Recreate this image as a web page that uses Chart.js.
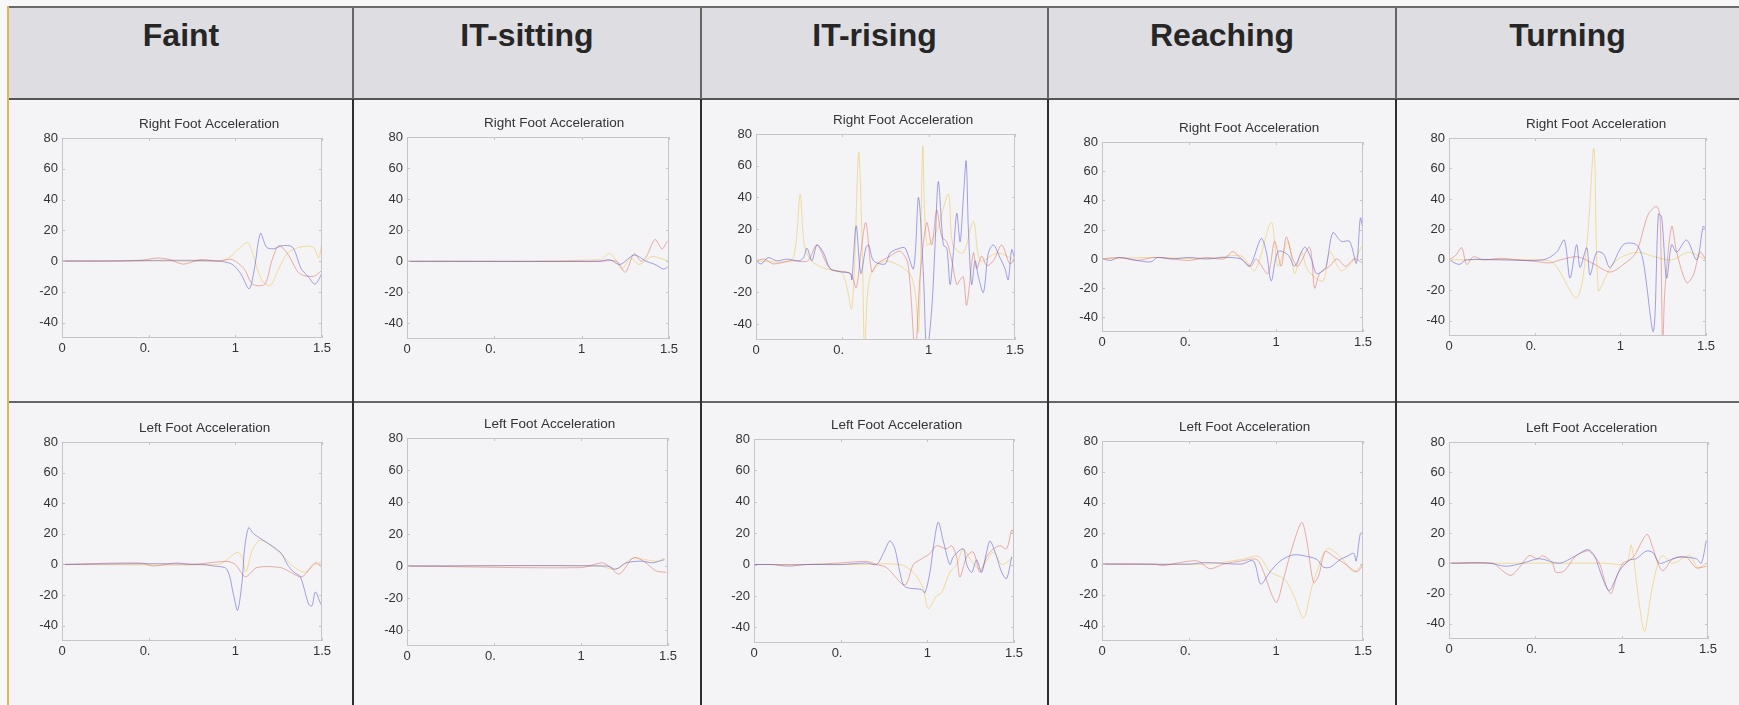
<!DOCTYPE html>
<html lang="en">
<head>
<meta charset="UTF-8">
<title>Foot acceleration per activity</title>
<script src="https://cdn.jsdelivr.net/npm/chart.js"></script>
<style>
  html, body { margin: 0; padding: 0; }
  body { width: 1739px; height: 705px; position: relative; overflow: hidden; background: #f7f7f7; font-family: "Liberation Sans", Arial, sans-serif; }
  #sheet { position: absolute; left: 9px; top: 7px; right: 0; bottom: 0; background: #f4f4f6; }
  #band { position: absolute; left: 9px; top: 8px; right: 0; height: 91px; background: #dedde2; }
  .head { position: absolute; top: 19px; line-height: 32px; font-size: 32px; font-weight: bold; color: #262626; text-align: center; }
  .line { position: absolute; }
  canvas { position: absolute; }
</style>
</head>
<body>
<div id="sheet"></div>
<div id="band"></div>

<script>
  // categories and labels
  const activities = ['Faint', 'IT-sitting', 'IT-rising', 'Reaching', 'Turning'];
  const rowTitles = ['Right Foot Acceleration', 'Left Foot Acceleration'];
  const xTicks = [0, 0.5, 1, 1.5];
  const xTickLabels = ['0', '0.  ', '1', '1.5'];
  const yTicks = [-40, -20, 0, 20, 40, 60, 80];

  // series: [time, acceleration]
  const faintRightBlue = [[0,0],[0.3,0],[0.6,0.5],[0.9,0],[0.98,-2],[1.03,-8],[1.08,-18],[1.11,-5],[1.145,18],[1.18,9],[1.22,8],[1.27,10],[1.33,9],[1.38,-5],[1.42,-10],[1.46,-15],[1.5,-8]];
  const faintRightRed = [[0,0],[0.45,0.5],[0.55,2],[0.62,1],[0.7,-2],[0.8,1],[0.9,0],[0.98,1],[1.05,-5],[1.1,-15],[1.17,-15],[1.21,0],[1.25,10],[1.3,5],[1.37,-8],[1.45,-10],[1.5,-6]];
  const faintRightYellow = [[0,0],[0.5,0],[0.9,0],[0.96,2],[1.02,8],[1.07,12],[1.1,5],[1.15,-12],[1.2,-16],[1.25,-5],[1.3,5],[1.37,9],[1.45,9],[1.48,2],[1.5,12]];

  const faintLeftBlue = [[0,0],[0.5,0.5],[0.8,0],[0.875,-1],[0.95,-3],[0.99,-20],[1.013,-30],[1.04,-10],[1.053,10],[1.077,24],[1.106,20],[1.26,8],[1.3,0],[1.337,-5],[1.375,-8],[1.423,-26],[1.442,-27],[1.462,-18],[1.49,-25],[1.5,-27]];
  const faintLeftRed = [[0,0],[0.45,1],[0.53,-1],[0.66,1],[0.75,0],[0.95,2],[1.0,0],[1.058,-8],[1.125,-2],[1.26,-2],[1.317,-5],[1.385,-8],[1.46,1],[1.5,-2]];
  const faintLeftYellow = [[0,0],[0.9,0],[0.95,3],[1.01,8],[1.038,5],[1.06,-5],[1.1,10],[1.15,16],[1.28,5],[1.32,0],[1.4,-5],[1.46,0],[1.5,2]];

  const sitRightBlue = [[0,0],[1.1,0],[1.16,1],[1.22,-2],[1.3,4],[1.37,0],[1.42,-2],[1.47,-5],[1.5,-3]];
  const sitRightRed = [[0,0],[1.1,0],[1.2,0],[1.25,-7],[1.3,5],[1.34,0],[1.37,3],[1.42,14],[1.46,8],[1.49,13]];
  const sitRightYellow = [[0,0],[1.1,1],[1.16,5],[1.2,0],[1.23,-5],[1.28,2],[1.33,-2],[1.4,3],[1.45,2],[1.5,0]];

  const sitLeftBlue = [[0,0],[1.15,0],[1.2,-2],[1.26,2],[1.35,3],[1.41,2],[1.48,4]];
  const sitLeftRed = [[0,0],[1.0,-1],[1.12,2],[1.16,0],[1.22,-5],[1.3,5],[1.36,3],[1.43,-3],[1.49,-4]];
  const sitLeftYellow = [[0,0],[1.1,0],[1.2,-2],[1.3,5],[1.37,4],[1.44,3],[1.48,5]];

  const riseRightBlue = [[0,0],[0.03,-2],[0.07,2],[0.12,0],[0.18,1],[0.25,0],[0.276,2],[0.295,8],[0.324,0],[0.353,10],[0.391,5],[0.43,-5],[0.488,-7],[0.546,-8],[0.555,-12],[0.58,22],[0.607,-8],[0.636,8],[0.652,10],[0.681,0],[0.748,-2],[0.777,5],[0.835,8],[0.864,8],[0.912,-5],[0.941,40],[0.97,-10],[0.989,-58],[1.018,-30],[1.037,10],[1.056,50],[1.085,10],[1.105,8],[1.124,-15],[1.143,5],[1.163,30],[1.182,12],[1.201,40],[1.217,63],[1.23,20],[1.249,-15],[1.269,0],[1.288,-10],[1.317,-20],[1.346,5],[1.375,10],[1.413,2],[1.442,-5],[1.461,-12],[1.481,7],[1.5,0]];
  const riseRightRed = [[0,0],[0.05,1],[0.1,-2],[0.2,0],[0.3,0],[0.353,10],[0.43,-5],[0.546,-8],[0.58,-17],[0.607,5],[0.636,24],[0.671,-7],[0.7,-2],[0.777,3],[0.835,6],[0.88,-2],[0.922,-58],[0.95,-10],[0.989,24],[1.018,10],[1.047,32],[1.076,15],[1.105,12],[1.134,0],[1.163,-15],[1.182,-12],[1.201,-10],[1.22,-28],[1.259,5],[1.278,-5],[1.307,3],[1.336,-3],[1.375,0],[1.423,10],[1.47,-2],[1.5,2]];
  const riseRightYellow = [[0,0],[0.2,0],[0.23,10],[0.256,42],[0.28,10],[0.32,0],[0.4,-5],[0.5,-8],[0.555,-30],[0.594,68],[0.615,10],[0.63,-58],[0.66,-10],[0.75,0],[0.9,-10],[0.941,-45],[0.966,72],[0.99,10],[1.05,20],[1.114,42],[1.14,10],[1.2,5],[1.259,25],[1.3,0],[1.4,5],[1.5,0]];

  const riseLeftBlue = [[0,0],[0.1,0],[0.2,-1],[0.3,0],[0.5,0],[0.649,1],[0.707,0],[0.75,8],[0.784,15],[0.813,10],[0.842,-5],[0.87,-14],[0.967,-16],[0.986,-18],[1.015,-5],[1.04,15],[1.063,27],[1.092,15],[1.13,0],[1.15,5],[1.207,10],[1.227,0],[1.256,-5],[1.284,3],[1.313,-5],[1.342,8],[1.362,15],[1.4,5],[1.429,-5],[1.457,-9],[1.487,5]];
  const riseLeftRed = [[0,0],[0.1,0],[0.3,0],[0.5,1],[0.649,2],[0.707,0],[0.765,-2],[0.87,-13],[0.919,0],[0.957,3],[1.015,7],[1.053,12],[1.111,10],[1.14,12],[1.169,5],[1.188,-8],[1.227,5],[1.265,8],[1.304,-5],[1.342,5],[1.381,10],[1.419,12],[1.457,10],[1.487,22],[1.5,20]];
  const riseLeftYellow = [[0,0],[0.6,0],[0.842,0],[0.919,-5],[0.976,-15],[1.005,-28],[1.053,-20],[1.082,-18],[1.13,-5],[1.169,0],[1.207,10],[1.25,3],[1.304,-3],[1.381,8],[1.43,0],[1.5,5]];

  const reachRightBlue = [[0,0],[0.05,-1],[0.1,1],[0.2,-1],[0.28,-2],[0.32,1],[0.4,0],[0.5,1],[0.6,0],[0.7,1],[0.8,0],[0.848,-5],[0.915,14],[0.944,5],[0.973,-15],[1.011,5],[1.068,3],[1.107,-5],[1.164,8],[1.203,0],[1.232,-10],[1.27,-8],[1.289,-5],[1.327,18],[1.375,12],[1.423,12],[1.462,-3],[1.485,28],[1.5,20]];
  const reachRightRed = [[0,0],[0.1,1],[0.2,-1],[0.3,1],[0.4,0],[0.5,-1],[0.6,1],[0.7,0],[0.752,5],[0.8,0],[0.857,-5],[0.886,0],[0.953,-10],[0.992,12],[1.03,-5],[1.059,15],[1.097,0],[1.126,-5],[1.193,8],[1.222,-20],[1.251,-10],[1.308,-5],[1.35,0],[1.4,-5],[1.45,0],[1.5,-3]];
  const reachRightYellow = [[0,0],[0.3,1],[0.6,0],[0.8,2],[0.877,-8],[0.973,25],[1.011,-5],[1.068,12],[1.107,-10],[1.145,5],[1.184,-8],[1.27,-15],[1.308,5],[1.375,-8],[1.452,0],[1.5,10]];

  const reachLeftBlue = [[0,0],[0.5,0],[0.6,1],[0.8,0],[0.87,2],[0.912,-13],[0.966,-5],[1.024,2],[1.1,6],[1.177,5],[1.235,3],[1.273,-2],[1.312,-2],[1.369,3],[1.408,5],[1.446,7],[1.461,2],[1.485,20],[1.5,20]];
  const reachLeftRed = [[0,0],[0.3,0],[0.35,-1],[0.45,1],[0.55,2],[0.62,-3],[0.7,0],[0.8,2],[0.889,3],[0.928,-5],[0.976,-20],[1.004,-25],[1.043,-10],[1.091,10],[1.148,27],[1.177,15],[1.216,-12],[1.244,-8],[1.283,8],[1.331,5],[1.398,0],[1.465,-5],[1.5,0]];
  const reachLeftYellow = [[0,0],[0.6,0],[0.8,3],[0.899,5],[0.966,-5],[1.05,-10],[1.1,-20],[1.158,-35],[1.206,-15],[1.235,-5],[1.293,10],[1.369,5],[1.446,-5],[1.5,0]];

  const turnRightBlue = [[0,0],[0.06,-3],[0.1,0],[0.3,0],[0.55,0],[0.628,5],[0.673,13],[0.706,-12],[0.745,10],[0.765,-5],[0.804,8],[0.823,-10],[0.862,5],[0.901,4],[0.94,-5],[1.018,10],[1.093,10],[1.132,0],[1.193,-47],[1.222,30],[1.241,28],[1.27,-12],[1.3,10],[1.329,5],[1.387,13],[1.446,0],[1.484,22],[1.5,20]];
  const turnRightRed = [[0,0],[0.04,3],[0.074,8],[0.103,-3],[0.142,2],[0.2,0],[0.3,1],[0.4,0],[0.5,-1],[0.59,-2],[0.65,0],[0.75,2],[0.85,-3],[0.94,-8],[1.018,-3],[1.093,5],[1.163,30],[1.212,35],[1.232,28],[1.247,-58],[1.26,-20],[1.3,22],[1.329,5],[1.387,-15],[1.426,-10],[1.465,5],[1.5,0]];
  const turnRightYellow = [[0,0],[0.5,0],[0.609,-2],[0.745,-25],[0.804,10],[0.846,73],[0.872,-20],[0.92,-10],[0.98,0],[1.1,5],[1.2,2],[1.3,0],[1.4,5],[1.5,0]];

  const turnLeftBlue = [[0,0],[0.232,0],[0.329,-2],[0.426,0],[0.523,3],[0.639,0],[0.735,5],[0.803,9],[0.842,5],[0.89,-10],[0.929,-18],[0.987,-5],[1.045,2],[1.084,3],[1.142,8],[1.181,7],[1.219,0],[1.277,2],[1.335,4],[1.432,3],[1.461,0],[1.49,15]];
  const turnLeftRed = [[0,0],[0.252,0],[0.31,-5],[0.358,-8],[0.406,-3],[0.464,5],[0.513,3],[0.542,5],[0.6,0],[0.619,-6],[0.668,-5],[0.735,5],[0.794,8],[0.813,8],[0.871,0],[0.91,-15],[0.939,-20],[0.968,-10],[1.007,0],[1.045,2],[1.074,5],[1.146,19],[1.181,10],[1.21,0],[1.239,-5],[1.297,3],[1.374,4],[1.432,-3],[1.49,-2]];
  const turnLeftYellow = [[0,0],[0.6,0],[0.9,0],[1.026,0],[1.055,12],[1.094,-20],[1.132,-45],[1.171,-20],[1.21,0],[1.239,5],[1.297,0],[1.393,5],[1.442,-3],[1.49,0]];

  const panelSeries = [
    [[faintRightBlue, faintRightRed, faintRightYellow], [sitRightBlue, sitRightRed, sitRightYellow],
     [riseRightBlue, riseRightRed, riseRightYellow], [reachRightBlue, reachRightRed, reachRightYellow],
     [turnRightBlue, turnRightRed, turnRightYellow]],
    [[faintLeftBlue, faintLeftRed, faintLeftYellow], [sitLeftBlue, sitLeftRed, sitLeftYellow],
     [riseLeftBlue, riseLeftRed, riseLeftYellow], [reachLeftBlue, reachLeftRed, reachLeftYellow],
     [turnLeftBlue, turnLeftRed, turnLeftYellow]]
  ];

  // layout of the scanned table (page px)
  const colEdges = [9, 353, 701, 1048, 1396, 1739];
  const rowSpans = [[101, 401], [404, 705]];
  // plot box per panel: left, top(80), right, bottom(-50)
  const plotBoxes = [
    [[62, 138, 322, 338], [407, 137, 669, 339], [756, 134, 1015, 340], [1102, 142, 1363, 332], [1449, 138, 1706, 336]],
    [[62, 442, 322, 641], [407, 438, 668, 646], [754, 439, 1014, 643], [1102, 441, 1363, 641], [1449, 442, 1708, 639]]
  ];
  // faint scan colours
  const lineColors = ['rgba(90,90,210,0.55)', 'rgba(220,100,90,0.5)', 'rgba(236,200,95,0.6)'];

  function addLine(x, y, w, h, color) {
    const d = document.createElement('div');
    d.className = 'line';
    d.style.cssText = `left:${x}px;top:${y}px;width:${w}px;height:${h}px;background:${color}`;
    document.body.appendChild(d);
  }

  // table rules
  addLine(8, 6, 1731, 2, '#6a6a6a');
  addLine(9, 98, 1730, 2, '#555');
  addLine(9, 401, 1730, 2, '#666');
  addLine(7, 6, 2, 699, '#e2b45a');
  for (let i = 1; i < colEdges.length - 1; i++) {
    addLine(colEdges[i] - 1, 8, 2, 91, '#666');
    addLine(colEdges[i] - 1, 99, 2, 606, '#2e2e2e');
  }

  activities.forEach((name, i) => {
    const h = document.createElement('div');
    h.className = 'head';
    h.style.left = colEdges[i] + 'px';
    h.style.width = (colEdges[i + 1] - colEdges[i]) + 'px';
    h.textContent = name;
    document.body.appendChild(h);
  });

  Chart.defaults.font.family = '"Liberation Sans", Arial, sans-serif';
  Chart.defaults.color = '#333';

  // matlab style box, inward ticks and the axes title
  Chart.register({
    id: 'matlabFrame',
    afterDraw(chart, args, opts) {
      const { ctx, chartArea: a, scales } = chart;
      ctx.save();
      ctx.strokeStyle = '#c4c4c9';
      ctx.lineWidth = 1;
      ctx.strokeRect(Math.round(a.left) + 0.5, Math.round(a.top) + 0.5, Math.round(a.width) - 1, Math.round(a.height) - 1);
      ctx.beginPath();
      xTicks.forEach(v => {
        const px = Math.round(scales.x.getPixelForValue(v)) + 0.5;
        ctx.moveTo(px, a.bottom); ctx.lineTo(px, a.bottom - 3);
        ctx.moveTo(px, a.top); ctx.lineTo(px, a.top + 3);
      });
      yTicks.forEach(v => {
        const py = Math.round(scales.y.getPixelForValue(v)) + 0.5;
        ctx.moveTo(a.left, py); ctx.lineTo(a.left + 3, py);
        ctx.moveTo(a.right, py); ctx.lineTo(a.right - 3, py);
      });
      ctx.stroke();
      ctx.font = '13.5px "Liberation Sans", Arial, sans-serif';
      ctx.fillStyle = '#333';
      ctx.textBaseline = 'middle';
      ctx.textAlign = 'left';
      ctx.fillText(opts.text, a.left + 77, a.top - 14);
      ctx.restore();
    }
  });

  rowSpans.forEach(([rTop, rBottom], r) => {
    activities.forEach((name, c) => {
      const cLeft = colEdges[c] + 1;
      const cRight = colEdges[c + 1] - 1;
      const [L, T, R, B] = plotBoxes[r][c];
      const canvas = document.createElement('canvas');
      canvas.width = cRight - cLeft;
      canvas.height = rBottom - rTop;
      canvas.style.left = cLeft + 'px';
      canvas.style.top = rTop + 'px';
      document.body.appendChild(canvas);

      new Chart(canvas, {
        type: 'line',
        data: {
          datasets: panelSeries[r][c].map((pts, k) => ({
            data: pts.map(p => ({ x: p[0], y: p[1] })),
            borderColor: lineColors[k],
            borderWidth: 1,
            pointRadius: 0,
            tension: 0.3,
            fill: false
          }))
        },
        options: {
          responsive: false,
          animation: false,
          devicePixelRatio: 1,
          layout: { padding: { left: 0, top: T - rTop, right: cRight - R, bottom: 0 } },
          plugins: {
            legend: { display: false },
            title: { display: false },
            tooltip: { enabled: false },
            matlabFrame: { text: rowTitles[r] }
          },
          scales: {
            x: {
              type: 'linear', min: 0, max: 1.5,
              grid: { display: false, drawTicks: false },
              border: { display: false },
              afterBuildTicks: s => { s.ticks = xTicks.map(v => ({ value: v })); },
              afterFit: s => { s.height = rBottom - B; },
              ticks: {
                font: { size: 13 }, color: '#333', padding: 3,
                maxRotation: 0, autoSkip: false,
                callback: (v, i) => xTickLabels[i]
              }
            },
            y: {
              min: -50, max: 80,
              grid: { display: false, drawTicks: false },
              border: { display: false },
              afterBuildTicks: s => { s.ticks = yTicks.map(v => ({ value: v })); },
              afterFit: s => { s.width = L - cLeft; },
              ticks: { font: { size: 13 }, color: '#333', padding: 4, callback: v => String(v) }
            }
          }
        }
      });
    });
  });
</script>
</body>
</html>
